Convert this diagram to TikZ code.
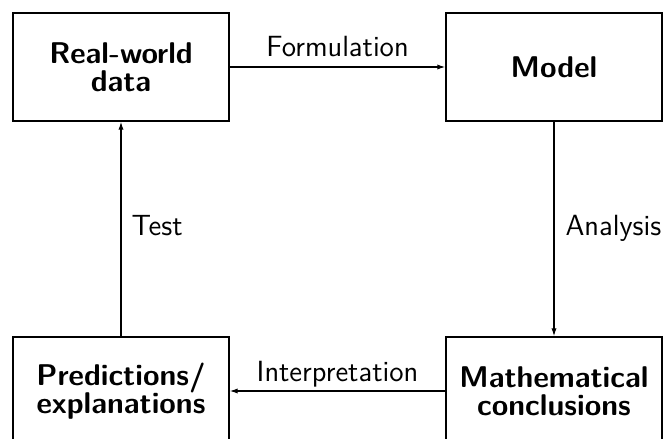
\documentclass[tikz,border=0pt]{standalone}
\usetikzlibrary{arrows.meta}
\begin{document}
\begin{tikzpicture}[x=0.5pt,y=-0.5pt,
  box/.style={draw,line width=0.7pt,minimum width=108pt,minimum height=54pt,align=center,font=\sffamily\bfseries\fontsize{15}{14.2}\selectfont,inner sep=0pt},
  lbl/.style={font=\sffamily\fontsize{14.6}{16}\selectfont,inner sep=0pt,text depth=0pt},
  conn/.style={line width=0.6pt,-{Latex[length=4pt,width=2.6pt]}}]
\useasboundingbox (0,0) rectangle (665,439);
\node[box] (rw) at (121,67) {Real-world\\data};
\node[box] (mo) at (554,67) {Model};
\node[box] (pr) at (121,391) {Predictions/\\explanations};
\node[box] (mc) at (554,391) {Mathematical\\conclusions};
\draw[conn] (rw) -- node[lbl,above=5pt] (f) {Formulation} (mo);
\draw[conn] (mo) -- node[lbl,right=5.5pt,yshift=2pt] (a) {Analysis} (mc);
\draw[conn] (mc) -- node[lbl,above=4.5pt] (i) {Interpretation} (pr);
\draw[conn] (pr) -- node[lbl,right=5pt,yshift=2pt] (t) {Test} (rw);
\end{tikzpicture}
\end{document}
